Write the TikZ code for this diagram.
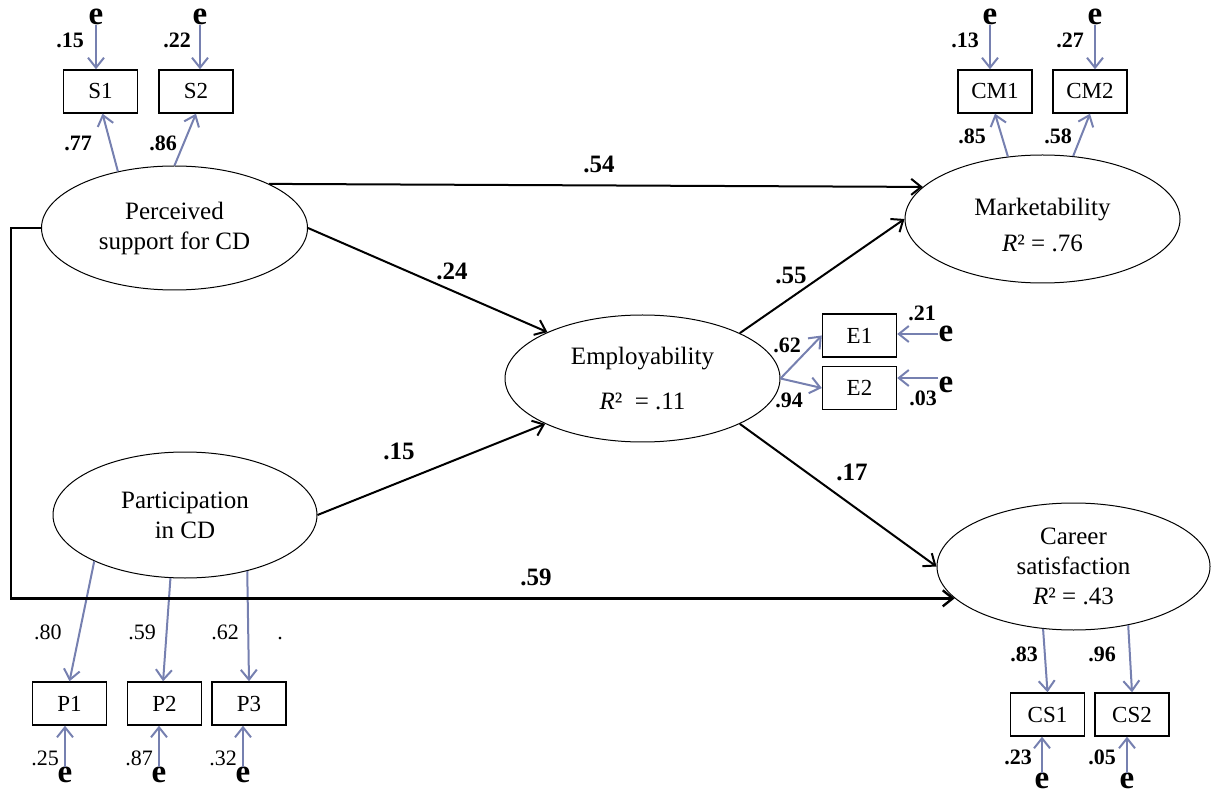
\documentclass[tikz,border=0pt]{standalone}
\usepackage{fontspec}
\setmainfont{Liberation Serif}
\usetikzlibrary{shapes.geometric,arrows.meta}

\definecolor{loadblue}{RGB}{118,128,176}

\begin{document}
\begin{tikzpicture}[x=0.5pt, y=-0.5pt,
	latent/.style={ellipse, draw, line width=0.5pt, inner sep=0pt, align=center, font=\fontsize{12.5}{15}\selectfont},
	item/.style={rectangle, draw, line width=0.7pt, minimum width=37pt, minimum height=21.5pt, inner sep=0pt, font=\fontsize{11.5}{13}\selectfont},
	err/.style={inner sep=0pt, font=\fontsize{16.5}{17}\selectfont\bfseries},
	struct/.style={-{Straight Barb[length=5pt,width=8pt]}, line width=1pt},
	loading/.style={-{Straight Barb[length=5pt,width=8pt]}, line width=1pt, loadblue},
	coef/.style={inner sep=0pt, text height=8.5pt, text depth=0pt, font=\fontsize{12.5}{15}\selectfont\bfseries},
	est/.style={inner sep=0pt, text height=7.5pt, text depth=0pt, font=\fontsize{11}{13}\selectfont\bfseries},
	estthin/.style={est, font=\fontsize{11}{13}\selectfont}]
	\useasboundingbox (0,0) rectangle (1215,796);

	\node[latent, minimum width=133pt, minimum height=62pt] (perc) at (174.5,228) {Perceived\\support for CD};
	\node[latent, minimum width=132pt, minimum height=63pt] (part) at (185,515) {Participation\\in CD};
	\node[latent, minimum width=137.5pt, minimum height=63.5pt] (emp) at (642.5,378.5) {Employability\\[7.5pt]\textit{R}² \ = .11};
	\node[latent, minimum width=137.5pt, minimum height=64pt] (mkt) at (1042.5,219) {\rule{0pt}{14.5pt}Marketability\\[3pt]\textit{R}² = .76};
	\node[latent, minimum width=136.5pt, minimum height=63.5pt] (car) at (1073.5,566.5) {Career\\satisfaction\\\textit{R}² = .43};

	\node[item] (S1) at (100.5,91.5) {S1};
	\node[item] (S2) at (196,91.5) {S2};
	\node[item] (CM1) at (995,91.5) {CM1};
	\node[item] (CM2) at (1090,91.5) {CM2};
	\node[item] (E1) at (859.5,335.5) {E1};
	\node[item] (E2) at (859.5,388) {E2};
	\node[item] (P1) at (69.5,703.5) {P1};
	\node[item] (P2) at (164.5,703.5) {P2};
	\node[item] (P3) at (249,703.5) {P3};
	\node[item] (CS1) at (1047.5,714.5) {CS1};
	\node[item] (CS2) at (1132,714.5) {CS2};

	\node[err] (eS1) at (96,17) {e};
	\node[err] (eS2) at (200,17) {e};
	\node[err] (eCM1) at (990,17) {e};
	\node[err] (eCM2) at (1095,17) {e};
	\node[err] (eE1) at (946,334) {e};
	\node[err] (eE2) at (946,385) {e};
	\node[err] (eP1) at (65,775) {e};
	\node[err] (eP2) at (159,775) {e};
	\node[err] (eP3) at (243,775) {e};
	\node[err] (eCS1) at (1042,781) {e};
	\node[err] (eCS2) at (1127,781) {e};

	\draw[loading] (eS1) -- (eS1 |- S1.north);
	\draw[loading] (eS2) -- (eS2 |- S2.north);
	\draw[loading] (eCM1) -- (eCM1 |- CM1.north);
	\draw[loading] (eCM2) -- (eCM2 |- CM2.north);
	\draw[loading] (eE1) -- (eE1 -| E1.east);
	\draw[loading] ([yshift=3.5pt]eE2.west) -- ([yshift=3.5pt]eE2.west -| E2.east);
	\draw[loading] (eP1) -- (eP1 |- P1.south);
	\draw[loading] (eP2) -- (eP2 |- P2.south);
	\draw[loading] (eP3) -- (eP3 |- P3.south);
	\draw[loading] (eCS1) -- (eCS1 |- CS1.south);
	\draw[loading] (eCS2) -- (eCS2 |- CS2.south);

	\draw[loading] (perc.135) -- ([xshift=1pt]S1.south);
	\draw[loading] (perc.90) -- (S2.south);
	\draw[loading] (mkt.119) -- (CM1.south);
	\draw[loading] (mkt.64) -- (CM2.south);
	\draw[loading] (emp.east) -- (E1.west);
	\draw[loading] (emp.east) -- (E2.west);
	\draw[loading] (part.207) -- (P1.north);
	\draw[loading] (part.257) -- ([xshift=-0.7pt]P2.north);
	\draw[loading] (part.-42) -- (P3.north);
	\draw[loading] (car.244) -- (CS1.north);
	\draw[loading] (car.-47) -- (CS2.north);

	\draw[struct] (perc.25) -- (mkt.165);
	\draw[struct] (perc.east) -- (emp.154);
	\draw[struct] (part.east) -- (emp.205);
	\draw[struct] (emp.25) -- (mkt.west);
	\draw[struct] (emp.-25) -- (car.west);
	\draw[struct, line width=1.2pt] (perc.west) -- ++(-15pt,0) |- (car.195);

	\node[coef] (wPM) at (599,164) {.54};
	\node[coef] (wPE) at (452,271) {.24};
	\node[coef] (wQE) at (399,451) {.15};
	\node[coef] (wEM) at (791,275) {.55};
	\node[coef] (wEC) at (852,472) {.17};
	\node[coef] (wPC) at (536,577) {.59};

	\node[est] (lS1) at (78,143) {.77};
	\node[est] (lS2) at (163,143) {.86};
	\node[est] (rS1) at (70,40) {.15};
	\node[est] (rS2) at (177,40) {.22};
	\node[est] (lCM1) at (972,136) {.85};
	\node[est] (lCM2) at (1058,136) {.58};
	\node[est] (rCM1) at (965,40) {.13};
	\node[est] (rCM2) at (1070,40) {.27};
	\node[est] (lE1) at (787,345) {.62};
	\node[est] (lE2) at (789,400) {.94};
	\node[est] (rE1) at (922,313) {.21};
	\node[est] (rE2) at (923,398) {.03};
	\node[estthin] (lP1) at (48,632) {.80};
	\node[estthin] (lP2) at (142,632) {.59};
	\node[estthin] (lP3) at (225,632) {.62};
	\node[estthin] (dot) at (280,632) {.};
	\node[estthin] (rP1) at (45,758) {.25};
	\node[estthin] (rP2) at (139,758) {.87};
	\node[estthin] (rP3) at (223,758) {.32};
	\node[est] (lCS1) at (1024,654) {.83};
	\node[est] (lCS2) at (1102,654) {.96};
	\node[est] (rCS1) at (1018,757) {.23};
	\node[est] (rCS2) at (1102,757) {.05};
\end{tikzpicture}
\end{document}
